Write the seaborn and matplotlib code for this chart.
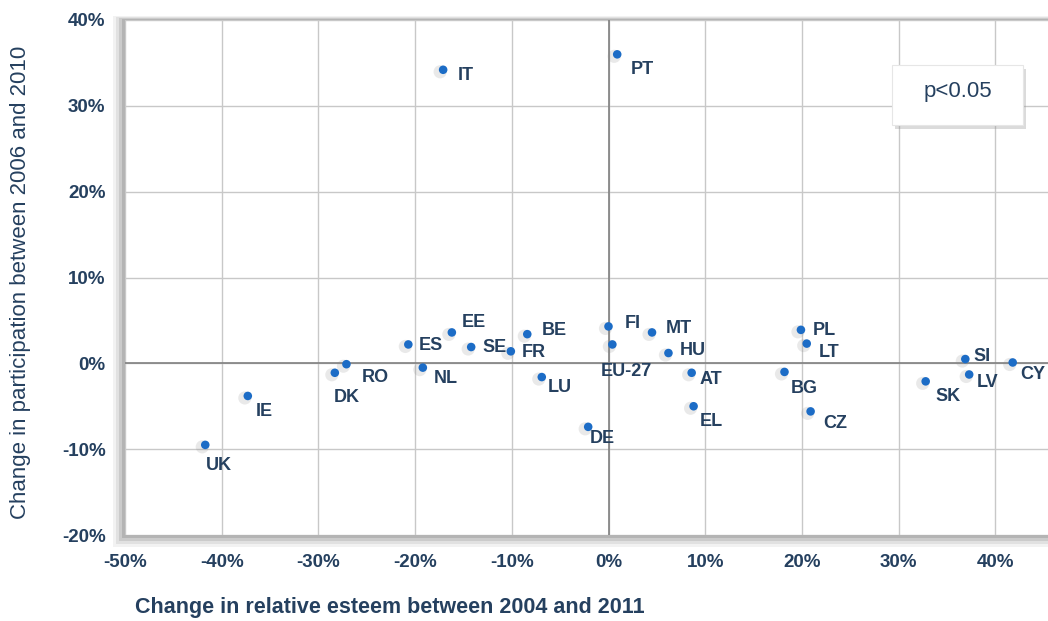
import numpy as np
import pandas as pd
import seaborn as sns
import matplotlib.pyplot as plt
import matplotlib.transforms as mtransforms
from matplotlib.patches import Rectangle
from matplotlib.ticker import FuncFormatter, MultipleLocator

# values (fractions)
countries = ['IT', 'PT', 'ES', 'EE', 'SE', 'FR', 'BE', 'FI', 'EU-27', 'MT', 'HU',
             'NL', 'LU', 'AT', 'EL', 'DE', 'PL', 'LT', 'BG', 'CZ', 'SI', 'LV',
             'SK', 'CY', 'RO', 'DK', 'IE', 'UK']
esteem_change = [-0.171, 0.009, -0.207, -0.162, -0.142, -0.101, -0.084, 0.000, 0.004,
                 0.045, 0.062, -0.192, -0.069, 0.086, 0.088, -0.021, 0.199, 0.205,
                 0.182, 0.209, 0.369, 0.373, 0.328, 0.418, -0.271, -0.283, -0.373,
                 -0.417]
participation_change = [0.342, 0.360, 0.022, 0.036, 0.019, 0.014, 0.034, 0.043, 0.022,
                        0.036, 0.012, -0.005, -0.016, -0.011, -0.050, -0.074, 0.039,
                        0.023, -0.010, -0.056, 0.005, -0.013, -0.021, 0.001, -0.001,
                        -0.011, -0.038, -0.095]

# label placement (pixels right, pixels down from the point)
label_offsets = {'IT': (23, 6), 'PT': (25, 15), 'ES': (23, 1), 'EE': (22, -10),
                 'SE': (23, 0), 'FR': (23, 1), 'BE': (27, -4), 'FI': (24, -3),
                 'EU-27': (14, 27), 'MT': (27, -4), 'HU': (24, -3), 'NL': (23, 11),
                 'LU': (18, 10), 'AT': (19, 7), 'EL': (18, 15), 'DE': (14, 12),
                 'PL': (23, 1), 'LT': (22, 9), 'BG': (20, 17), 'CZ': (25, 12),
                 'SI': (17, -3), 'LV': (18, 8), 'SK': (22, 15), 'CY': (20, 12),
                 'RO': (29, 13), 'DK': (12, 25), 'IE': (17, 16), 'UK': (14, 21)}

df = pd.DataFrame({'country': countries, 'esteem': esteem_change,
                   'participation': participation_change})

navy = '#25405f'
blue = '#1c6cc6'
W, H = 1048, 621

sns.set_theme(style='white')
plt.rcParams['font.family'] = ['Liberation Sans', 'DejaVu Sans']

fig = plt.figure(figsize=(W / 100, H / 100), dpi=100)

# plot area in pixel terms (left, top, right, bottom)
px_l, px_t, px_r, px_b = 125, 20, 1048, 535

# soft shadow around the plot area (behind the axes)
for i, a in enumerate([0.10, 0.15, 0.22, 0.30]):
    inset = 3 * i
    x0 = px_l - 12 + inset
    y0 = px_t - 4 + inset // 3
    y1 = px_b + 12 - inset
    fig.patches.append(Rectangle((x0 / W, 1 - y1 / H), (W - x0) / W, (y1 - y0) / H,
                                 transform=fig.transFigure, facecolor='#808080',
                                 edgecolor='none', alpha=a, zorder=-5))

ax = fig.add_axes([px_l / W, 1 - px_b / H, (px_r - px_l) / W, (px_b - px_t) / H])
ax.set_zorder(1)
ax.set_facecolor('white')

ax.set_xlim(-0.5, -0.5 + (px_r - px_l) / 967.0)
ax.set_ylim(-0.2, 0.4)
ax.xaxis.set_major_locator(MultipleLocator(0.1))
ax.yaxis.set_major_locator(MultipleLocator(0.1))
pct = FuncFormatter(lambda v, _: f'{v * 100:.0f}%')
ax.xaxis.set_major_formatter(pct)
ax.yaxis.set_major_formatter(pct)

ax.grid(True, color='#c8c8c8', linewidth=1.0, zorder=0)
ax.axhline(0, color='#808080', linewidth=1.2, zorder=1)
ax.axvline(0, color='#808080', linewidth=1.2, zorder=1)

for s in ['right', 'top', 'left', 'bottom']:
    ax.spines[s].set_visible(False)

# faint marker shadow, then markers
sns.scatterplot(data=df, x='esteem', y='participation', ax=ax, s=90,
                color='#8a8a8a', alpha=0.18, edgecolor='none', zorder=2,
                legend=False)
shadow = ax.collections[-1]
shadow.set_offset_transform(shadow.get_offset_transform() +
                            mtransforms.ScaledTranslation(-0.03, -0.02, fig.dpi_scale_trans))
sns.scatterplot(data=df, x='esteem', y='participation', ax=ax, s=38,
                color=blue, edgecolor='none', zorder=3, legend=False)

for _, r in df.iterrows():
    dx, dy = label_offsets[r['country']]
    ax.annotate(r['country'], (r['esteem'], r['participation']), xytext=(dx, -dy),
                textcoords='offset pixels', ha='center', va='center',
                fontsize=13, fontweight='bold', color=navy, zorder=4)

ax.tick_params(axis='both', length=0, labelsize=13.5, labelcolor=navy)
for lbl in ax.get_xticklabels() + ax.get_yticklabels():
    lbl.set_fontweight('bold')
ax.tick_params(axis='x', pad=14)
ax.tick_params(axis='y', pad=14)
ax.set_xlabel('')
ax.set_ylabel('')

fig.text(390 / W, 1 - 608 / H, 'Change in relative esteem between 2004 and 2011',
         ha='center', va='center', fontsize=15.5, fontweight='bold', color=navy)
fig.text(21 / W, 1 - 282 / H, 'Change in participation between 2006 and 2010',
         ha='center', va='center', rotation=90, fontsize=16, color=navy)

# p-value box
bx0, by0, bx1, by1 = 892, 65, 1023, 125
fig.patches.append(Rectangle(((bx0 + 3) / W, 1 - (by1 + 4) / H), (bx1 - bx0) / W,
                             (by1 - by0) / H, transform=fig.transFigure,
                             facecolor='#999999', alpha=0.35, edgecolor='none',
                             zorder=5))
fig.patches.append(Rectangle((bx0 / W, 1 - by1 / H), (bx1 - bx0) / W,
                             (by1 - by0) / H, transform=fig.transFigure,
                             facecolor='white', edgecolor='#e6e6e6', linewidth=0.8,
                             zorder=6))
fig.text((bx0 + bx1) / 2 / W, 1 - 92 / H, 'p<0.05', ha='center', va='center',
         fontsize=16, color=navy, zorder=7)

fig.savefig('out.png', dpi=100)
